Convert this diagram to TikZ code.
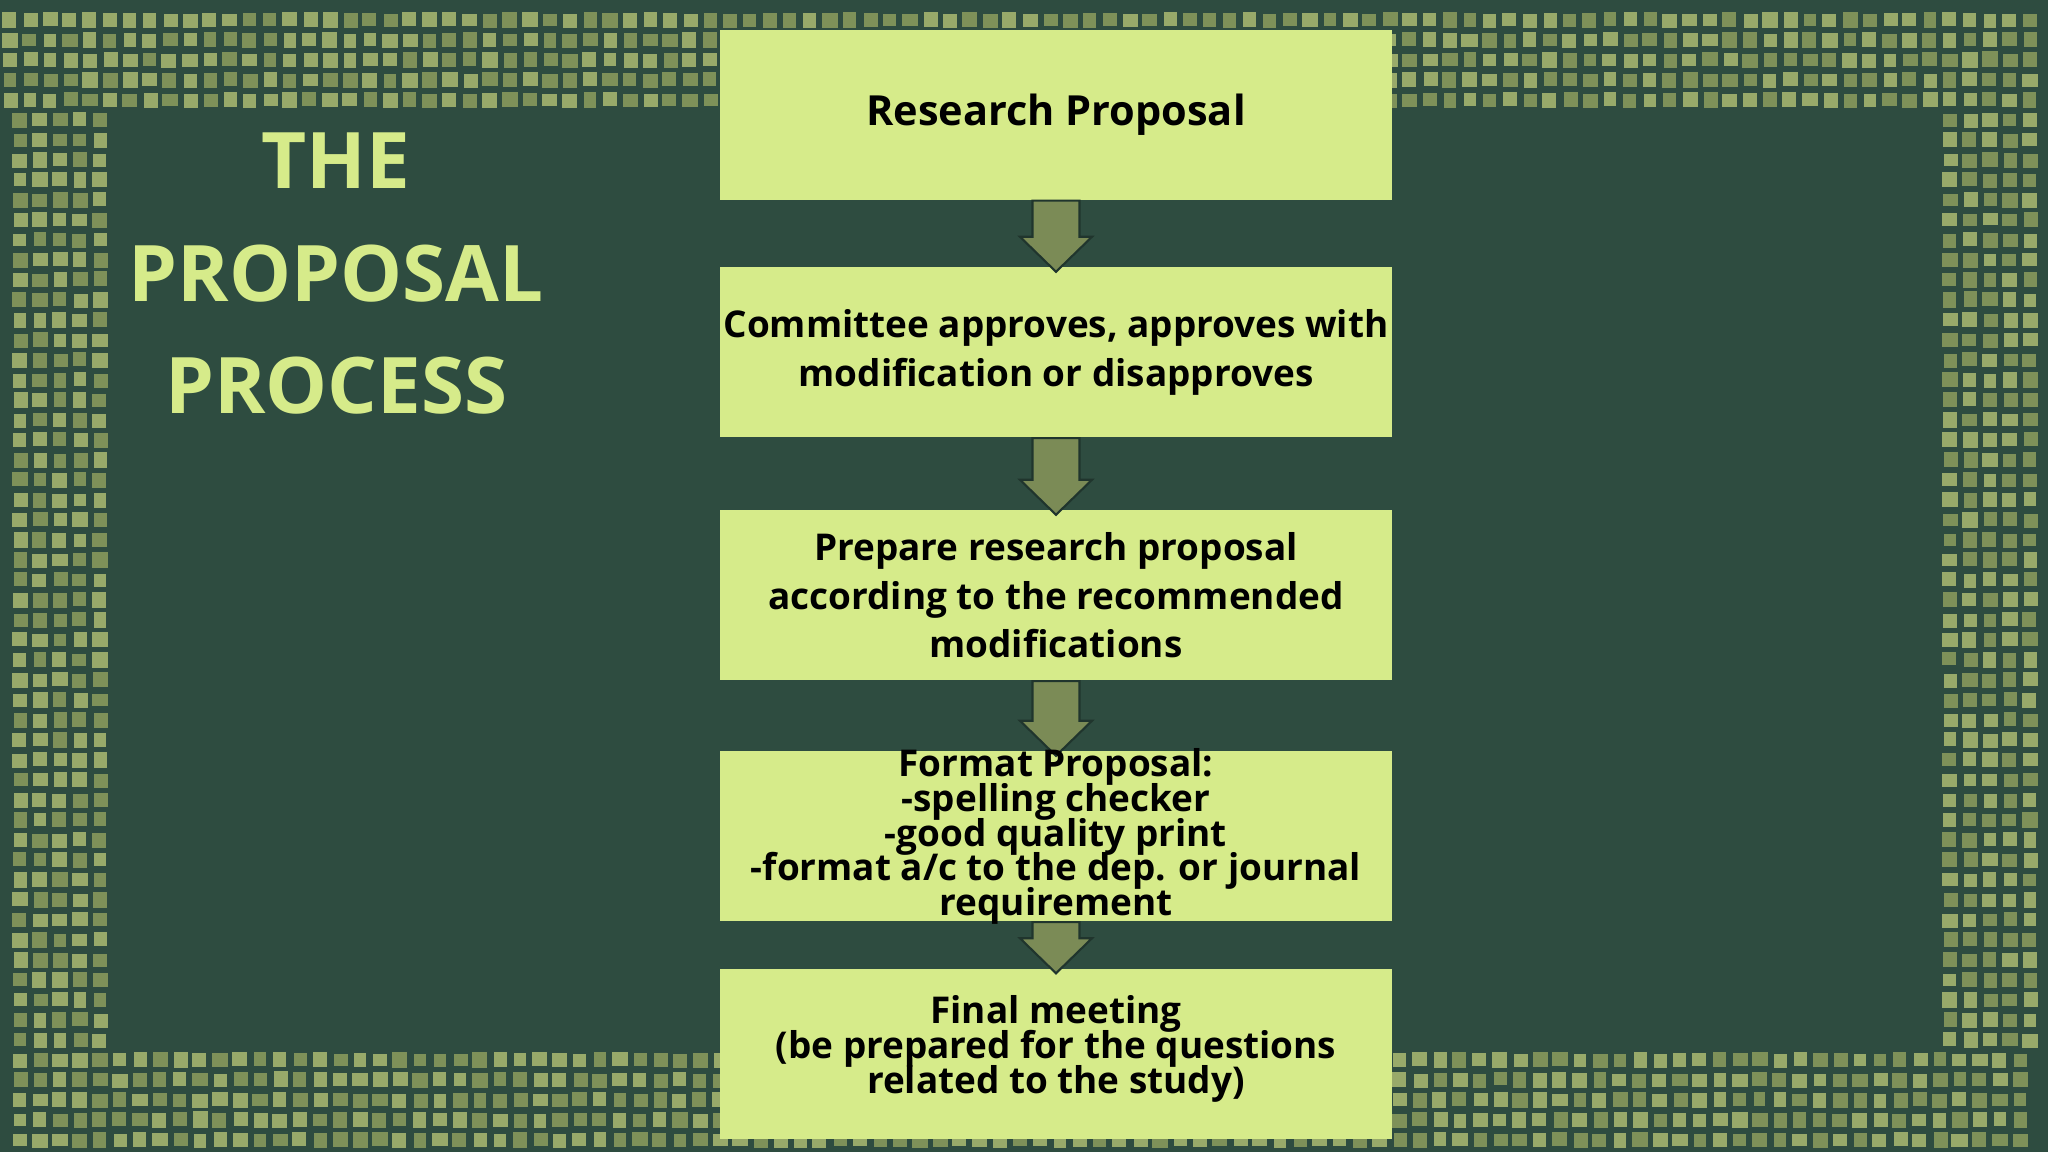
\documentclass[tikz,border=0pt]{standalone}
\usepackage{fontspec}
\setmainfont{Open Sans}
\definecolor{bg}{HTML}{2E4C40}
\definecolor{mosA}{HTML}{7E9159}
\definecolor{mosB}{HTML}{98AA6A}
\definecolor{boxc}{HTML}{D6EB8A}
\definecolor{arr}{HTML}{7B8B56}
\newcommand\tightfont{\fontsize{10.5}{9.9}\selectfont\bfseries\setlength\lineskiplimit{-20pt}\setlength\lineskip{0pt}}
\newcommand\mosaicband[4]{%
 \pgfmathtruncatemacro\nx{(#3-#1)/0.2-0.99}%
 \pgfmathtruncatemacro\ny{(#4-#2)/0.2-0.99}%
 \foreach \i in {0,...,\nx}{\foreach \j in {0,...,\ny}{%
   \pgfmathsetmacro\ax{#1+\i*0.2+0.015+0.03*rnd}%
   \pgfmathsetmacro\ay{#2+\j*0.2+0.015+0.03*rnd}%
   \pgfmathsetmacro\bx{#1+\i*0.2+0.2-0.015-0.03*rnd}%
   \pgfmathsetmacro\by{#2+\j*0.2+0.2-0.015-0.03*rnd}%
   \pgfmathparse{rnd>0.5?"mosA":"mosB"}\edef\cc{\pgfmathresult}%
   \fill[\cc] (\ax,\ay) rectangle (\bx,\by);}}}
\begin{document}
\begin{tikzpicture}[
  stepbox/.style={fill=boxc,minimum width=6.72cm,minimum height=1.70cm,inner sep=0pt,
    align=center,font=\fontsize{10.5}{13.8}\selectfont\bfseries,text=black},
  steptext/.style={inner sep=0pt,align=center,text=black,font=\tightfont},
  blockarrow/.style={fill=arr,draw=bg!70!black,line width=0.6pt}]
\fill[bg] (0,0) rectangle (20.48,11.52);
\pgfmathsetseed{7}
\mosaicband{0}{10.42}{20.48}{11.42}
\mosaicband{0.1}{1.02}{1.1}{10.42}
\mosaicband{19.4}{1.02}{20.4}{10.42}
\mosaicband{0.1}{0.02}{20.4}{1.02}
\fill[bg] (1.11,1.07) rectangle (19.41,10.41);
\node[font=\fontsize{22.2}{32}\selectfont\bfseries,text=boxc,align=center] (title) at (3.36,8.78)
  {THE\\PROPOSAL\\PROCESS};
\node[stepbox,font=\fontsize{11.8}{14}\selectfont\bfseries] (b1) at (10.56,10.37) {Research Proposal};
\node[stepbox] (b2) at (10.56,7.995) {Committee approves, approves with\\modification or disapproves};
\node[stepbox] (b3) at (10.56,5.565) {Prepare research proposal\\according to the recommended\\modifications};
\node[stepbox] (b4) at (10.56,3.155) {};
\node[stepbox] (b5) at (10.56,0.98) {};
\foreach \a/\b in {b1/b2,b2/b3,b3/b4,b4/b5}{
  \draw[blockarrow] ([xshift=-0.235cm]\a.south) -- ([xshift=-0.235cm,yshift=0.3cm]\b.north)
   -- ([xshift=-0.36cm,yshift=0.3cm]\b.north) -- ([yshift=-0.05cm]\b.north)
   -- ([xshift=0.36cm,yshift=0.3cm]\b.north) -- ([xshift=0.235cm,yshift=0.3cm]\b.north)
   -- ([xshift=0.235cm]\a.south) -- cycle;}
\node[steptext] (t4) at (b4) {Format Proposal:\\-spelling checker\\-good quality print\\-format a/c to the dep. or journal\\requirement};
\node[steptext] (t5) at ([yshift=0.05cm]b5.center) {Final meeting\\(be prepared for the questions\\related to the study)};
\end{tikzpicture}
\end{document}
